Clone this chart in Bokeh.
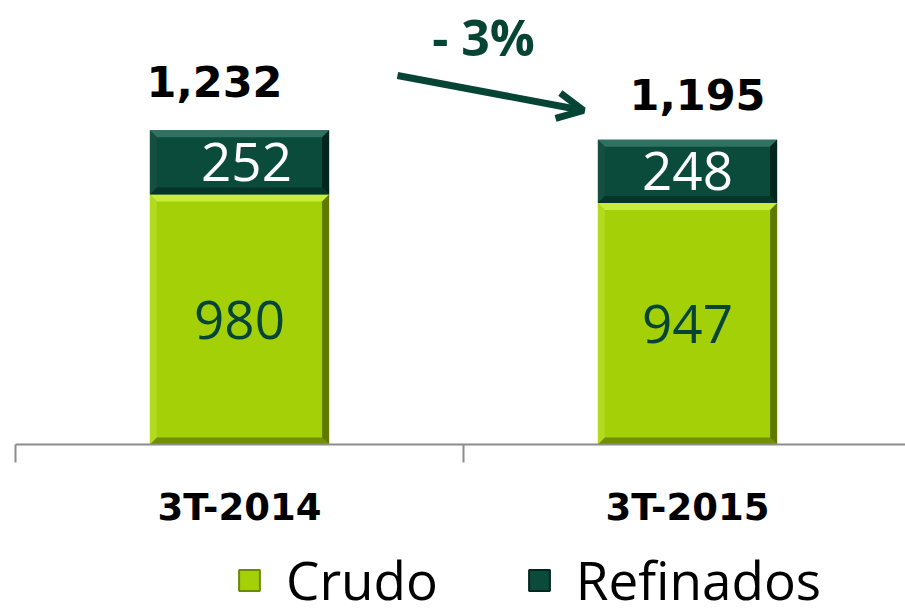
from bokeh.plotting import figure
from bokeh.layouts import column
from bokeh.models import (Range1d, FixedTicker, Legend, LegendItem, Arrow, OpenHead,
                          ColumnDataSource, Label)
from bokeh.core.properties import value
from bokeh.embed import file_html
from bokeh.resources import INLINE

# ---- data ----
periods = ["3T-2014", "3T-2015"]
crudo = [980, 947]
refinados = [252, 248]
totals = [1232, 1195]
series_names = ["Crudo", "Refinados"]
change_text = "- 3%"

# ---- styles ----
C_CRUDO = "#A4D007"
C_REF = "#0A4B3C"
C_TEXT_DARK = "#064536"
AXIS_GREY = "#8C8C8C"
BAR_W = 0.4
PX_X = 448.0      # px per category
PX_Y = 0.255      # px per unit
BEVEL = 7         # px

xs = [i + 0.5 for i in range(len(periods))]
ref_mid = [c + r / 2 for c, r in zip(crudo, refinados)]
crudo_mid = [c / 2 for c in crudo]

src = ColumnDataSource(dict(
    x=xs, crudo=crudo, refinados=refinados, totals=totals,
    crudo_mid=crudo_mid, ref_mid=ref_mid,
    crudo_lbl=[str(v) for v in crudo],
    ref_lbl=[str(v) for v in refinados],
    tot_lbl=[f"{v:,}" for v in totals],
    tot_dx=[-25, 10], tot_dy=[-49, -45], ref_dx=[7, 0],
))

p = figure(frame_width=890, frame_height=436,
           x_range=Range1d(0, 890 / PX_X), y_range=Range1d(0, 436 / PX_Y),
           output_backend="svg", toolbar_location=None,
           y_axis_location=None, min_border_left=15, min_border_right=0,
           min_border_top=8, min_border_bottom=100)
p.outline_line_color = None
p.xgrid.visible = False
p.ygrid.visible = False

p.vbar(x="x", bottom=0, top="crudo", width=BAR_W, source=src,
       fill_color=C_CRUDO, line_color=None)
p.vbar(x="x", bottom="crudo", top="totals", width=BAR_W, source=src,
       fill_color=C_REF, line_color=None)

# bevel edges computed from the bar values
bx = BEVEL / PX_X
by = BEVEL / PX_Y
bev_x, bev_y, bev_c = [], [], []
segments = []
for x, c, t in zip(xs, crudo, totals):
    segments.append((x, 0, c, ("#C8EC3A", "#B2DA1E", "#5E7800", "#728F00")))
    segments.append((x, c, t, ("#2F7262", "#154F40", "#02261C", "#05352A")))
for x, b, t, (ct, cl, cr, cb) in segments:
    l, r = x - BAR_W / 2, x + BAR_W / 2
    bev_x += [[l, r, r - bx, l + bx], [l, l, l + bx, l + bx],
              [r, r, r - bx, r - bx], [l, r, r - bx, l + bx]]
    bev_y += [[t, t, t - by, t - by], [b, t, t - by, b + by],
              [b, t, t - by, b + by], [b, b, b + by, b + by]]
    bev_c += [ct, cl, cr, cb]
p.patches(xs=bev_x, ys=bev_y, fill_color=bev_c, line_color=None)

p.text(x="x", y="crudo_mid", text="crudo_lbl", source=src,
       text_font=value("Open Sans"), text_font_size="53px",
       text_color=C_TEXT_DARK, text_align="center", text_baseline="middle")
p.text(x="x", y="ref_mid", text="ref_lbl", source=src,
       text_font=value("Open Sans"), text_font_size="53px",
       text_color="white", text_align="center", text_baseline="middle",
       x_offset="ref_dx")
p.text(x="x", y="totals", text="tot_lbl", source=src,
       text_font=value("DejaVu Sans"), text_font_style="bold",
       text_font_size="43px", text_color="black",
       text_align="center", text_baseline="alphabetic",
       x_offset="tot_dx", y_offset="tot_dy")

# change arrow + label
p.add_layout(Arrow(x_start=(397 - 15) / PX_X, y_start=(444 - 75) / PX_Y,
                   x_end=(583 - 15) / PX_X, y_end=(444 - 110) / PX_Y,
                   line_color=C_TEXT_DARK, line_width=7,
                   end=OpenHead(size=26, line_width=7, line_color=C_TEXT_DARK)))
p.add_layout(Label(x=(483 - 15) / PX_X, y=(444 - 36) / PX_Y, text=change_text,
                   text_font="Open Sans", text_font_style="bold",
                   text_font_size="50px", text_color=C_TEXT_DARK,
                   text_align="center", text_baseline="alphabetic"))

ax = p.xaxis[0]
ax.ticker = FixedTicker(ticks=xs, minor_ticks=list(range(len(periods) + 1)))
ax.major_label_overrides = {x: lbl for x, lbl in zip(xs, periods)}
ax.axis_line_color = AXIS_GREY
ax.axis_line_width = 2
ax.major_tick_in = 0
ax.major_tick_out = 0
ax.minor_tick_in = 0
ax.minor_tick_out = 18
ax.minor_tick_line_color = AXIS_GREY
ax.minor_tick_line_width = 2
ax.major_label_standoff = 23
ax.major_label_text_font = "DejaVu Sans"
ax.major_label_text_font_style = "bold"
ax.major_label_text_font_size = "37px"
ax.major_label_text_color = "black"

# ---- legend strip ----
lg = figure(frame_width=890, frame_height=100,
            x_range=Range1d(0, 1), y_range=Range1d(0, 1),
            output_backend="svg", toolbar_location=None,
            x_axis_location=None, y_axis_location=None,
            min_border_left=15, min_border_right=0,
            min_border_top=0, min_border_bottom=0)
lg.outline_line_color = None
lg.xgrid.visible = False
lg.ygrid.visible = False
# placeholder renderers (outside the visible range) that only supply legend swatches
d1 = lg.quad(left=[2], right=[3], top=[3], bottom=[2],
             fill_color=C_CRUDO, line_color="#6E8A05", line_width=2)
d2 = lg.quad(left=[2], right=[3], top=[3], bottom=[2],
             fill_color=C_REF, line_color="#02261C", line_width=2)

legend = Legend(items=[LegendItem(label=series_names[0], renderers=[d1]),
                       LegendItem(label=series_names[1], renderers=[d2])],
                orientation="horizontal", location=(221, 28),
                glyph_width=26, glyph_height=26, label_standoff=24, spacing=88,
                label_text_font="Open Sans", label_text_font_size="53px",
                label_text_color="black", label_text_baseline="middle",
                border_line_color=None, background_fill_alpha=0,
                padding=0, margin=0)
lg.add_layout(legend)

layout = column(p, lg, spacing=0)
open("out.html", "w").write(file_html(layout, INLINE))
